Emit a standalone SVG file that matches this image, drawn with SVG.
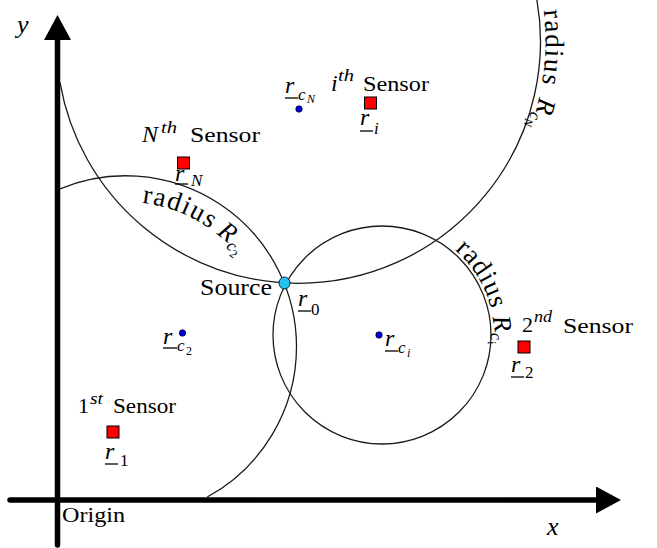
<svg xmlns="http://www.w3.org/2000/svg" width="657" height="548" viewBox="0 0 657 548">
<defs>
<style>
.t{font-family:"Liberation Serif","Times New Roman",serif;fill:#000}
.m{font-style:italic}
.lab{font-size:22px}
.big{font-size:24px}
.sub{font-size:17px}
.sup{font-size:16px;font-style:italic}
.ss{font-size:12px}
.rad{font-size:27px}
.circ{fill:none;stroke:#1a1a1a;stroke-width:1.3}
.axis{stroke:#000;stroke-width:5.5;stroke-linecap:round;fill:none}
.ul{stroke:#000;stroke-width:1.3}
.sensor{fill:#ff0000;stroke:#000;stroke-width:1}
.cdot{fill:#0000d8;stroke:#000030;stroke-width:0.8}
</style>
<marker id="arr" markerUnits="userSpaceOnUse" markerWidth="26" markerHeight="28" refX="1" refY="13.5" orient="auto"><path d="M0,0 L25,13.5 L0,27 z" fill="#000"/></marker>
<path id="pc2" d="M125.5,201.8 A145 145 0 0 1 268.3,321.6"/>
<path id="pcN" d="M543.6,10.3 A247 247 0 0 1 473.2,216"/>
<path id="pci" d="M450.96,246.74 A112 112 0 0 1 479,391"/>
</defs>

<g id="axes">
<line class="axis" x1="57.5" y1="545" x2="57.5" y2="39" marker-end="url(#arr)"/>
<line class="axis" x1="10" y1="500" x2="597" y2="500" marker-end="url(#arr)"/>
<text class="t m" x="17" y="33" font-size="26">y</text>
<text class="t m" x="547" y="535" font-size="26">x</text>
<text class="t lab" x="62" y="522" textLength="63" lengthAdjust="spacingAndGlyphs">Origin</text>
</g>

<g id="connectors">
<path class="circ" d="M60,82.3 A242 242 0 0 0 298.5,283.3 A242 242 0 0 0 536,-5"/>
<path class="circ" d="M60,188.8 A171 171 0 0 1 296.5,346.8 A171 171 0 0 1 207.2,497"/>
<circle class="circ" cx="382" cy="335" r="109"/>
</g>

<g id="label-radius-c2">
<text class="t rad"><textPath href="#pc2" startOffset="16.5" letter-spacing="1.5">radius</textPath></text>
<text class="t" transform="translate(216.2,233.6) rotate(38.7)"><tspan class="m" font-size="26">R</tspan><tspan class="m sub" dy="5">c</tspan><tspan class="ss" dy="4">2</tspan></text>
</g>
<g id="label-radius-cN">
<text class="t rad"><textPath href="#pcN" startOffset="0" letter-spacing="1.5">radius</textPath></text>
<text class="t" transform="translate(539.2,96.9) rotate(103)"><tspan class="m" font-size="26">R</tspan><tspan class="m sub" dy="5">c</tspan><tspan class="m ss" dy="4">N</tspan></text>
</g>
<g id="label-radius-ci">
<text class="t rad"><textPath href="#pci" startOffset="5" letter-spacing="0.8">radius</textPath></text>
<text class="t" transform="translate(492.5,317) rotate(80.75)"><tspan class="m" font-size="26">R</tspan><tspan class="m sub" dy="5">c</tspan><tspan class="m ss" dy="4">i</tspan></text>
</g>

<g id="sensor-N">
<rect class="sensor" x="177.5" y="157" width="12" height="12"/>
<text class="t m big" x="142" y="142">N</text>
<text class="t sup" x="161" y="133" textLength="16" lengthAdjust="spacingAndGlyphs">th</text>
<text class="t lab" x="190" y="142" textLength="70" lengthAdjust="spacingAndGlyphs">Sensor</text>
<text class="t m big" x="175" y="181">r</text>
<line class="ul" x1="175" y1="184" x2="188" y2="184"/>
<text class="t m sub" x="191" y="186">N</text>
</g>

<g id="sensor-i">
<rect class="sensor" x="364.5" y="97" width="12" height="12"/>
<text class="t m big" x="331" y="91">i</text>
<text class="t sup" x="338" y="81" textLength="16" lengthAdjust="spacingAndGlyphs">th</text>
<text class="t lab" x="363" y="91" textLength="66" lengthAdjust="spacingAndGlyphs">Sensor</text>
<text class="t m big" x="360" y="125">r</text>
<line class="ul" x1="360" y1="131" x2="373" y2="131"/>
<text class="t m sub" x="374" y="134">i</text>
</g>

<g id="center-N">
<circle class="cdot" cx="299" cy="109" r="3.2"/>
<text class="t m big" x="285" y="93">r</text>
<line class="ul" x1="285" y1="98" x2="298" y2="98"/>
<text class="t m sub" x="298" y="100">c</text>
<text class="t m ss" x="307" y="103">N</text>
</g>

<g id="source">
<ellipse cx="284.5" cy="283" rx="5.5" ry="6" fill="#22c4f2" stroke="#0a2030" stroke-width="1"/>
<text class="t big" x="200" y="295" textLength="72" lengthAdjust="spacingAndGlyphs">Source</text>
<text class="t m big" x="298" y="306">r</text>
<line class="ul" x1="298" y1="311" x2="311" y2="311"/>
<text class="t sub" x="311" y="315">0</text>
</g>

<g id="center-2">
<circle class="cdot" cx="182.5" cy="333" r="3.2"/>
<text class="t m big" x="163" y="344">r</text>
<line class="ul" x1="163" y1="348" x2="177" y2="348"/>
<text class="t m sub" x="177" y="351">c</text>
<text class="t ss" x="186" y="355">2</text>
</g>

<g id="center-i">
<circle class="cdot" cx="379" cy="335" r="3.2"/>
<text class="t m big" x="385" y="346">r</text>
<line class="ul" x1="385" y1="351" x2="398" y2="351"/>
<text class="t m sub" x="398" y="353">c</text>
<text class="t m ss" x="407" y="357">i</text>
</g>

<g id="sensor-2">
<rect class="sensor" x="518" y="341" width="12" height="12"/>
<text class="t lab" x="522" y="332">2</text>
<text class="t sup" x="534" y="322" textLength="18" lengthAdjust="spacingAndGlyphs">nd</text>
<text class="t lab" x="563" y="333" textLength="70" lengthAdjust="spacingAndGlyphs">Sensor</text>
<text class="t m big" x="511" y="372">r</text>
<line class="ul" x1="511" y1="377" x2="524" y2="377"/>
<text class="t sub" x="525" y="378">2</text>
</g>

<g id="sensor-1">
<rect class="sensor" x="107" y="426" width="12" height="12"/>
<text class="t lab" x="78" y="413">1</text>
<text class="t sup" x="90" y="404" textLength="13" lengthAdjust="spacingAndGlyphs">st</text>
<text class="t lab" x="113" y="413" textLength="63" lengthAdjust="spacingAndGlyphs">Sensor</text>
<text class="t m big" x="105" y="459">r</text>
<line class="ul" x1="105" y1="464" x2="118" y2="464"/>
<text class="t sub" x="120" y="466">1</text>
</g>
</svg>
